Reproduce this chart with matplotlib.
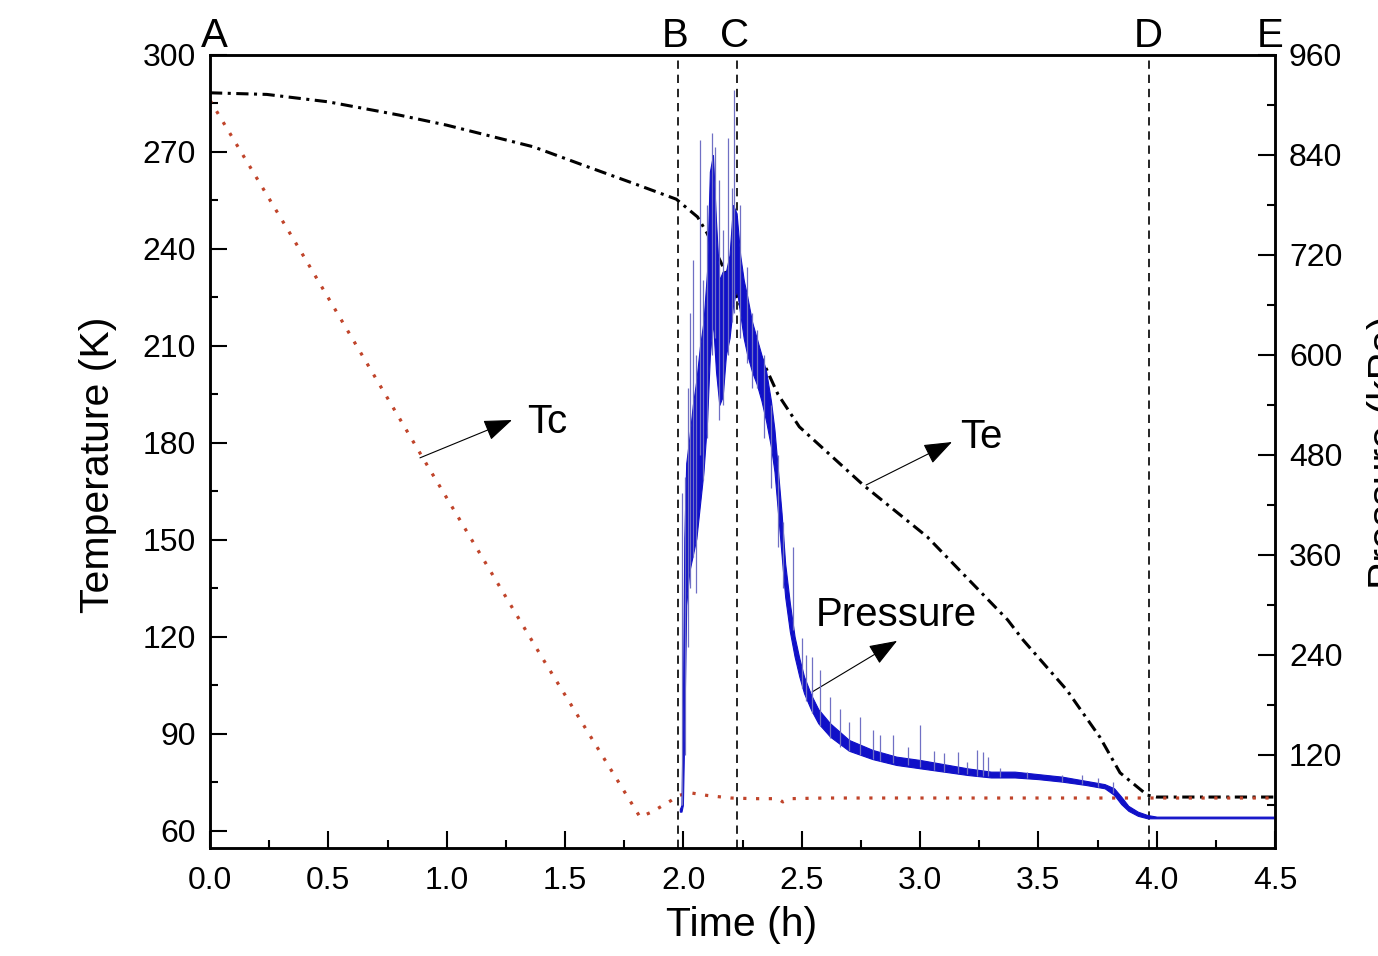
import numpy as np
import matplotlib.pyplot as plt
from matplotlib.ticker import MultipleLocator, FormatStrFormatter

plt.rcParams['font.family'] = ['Liberation Sans', 'DejaVu Sans']

# evaporator temperature Te (K)
te_t = [0, 0.24, 0.5, 0.8, 1.0, 1.366, 1.6, 1.8, 1.97, 2.06, 2.10, 2.22, 2.32,
        2.40, 2.49, 2.55, 2.76, 3.03, 3.37, 3.435, 3.62, 3.76, 3.845, 3.96, 4.0, 4.5]
te_k = [288.3, 287.8, 285.5, 281.4, 278.3, 271.6, 265.3, 260.0, 255.4, 249.9, 244.9,
        226.4, 207.8, 195.0, 185.0, 181.0, 167.0, 151.0, 125.3, 119.1, 103.6, 89.0,
        78.0, 71.1, 70.5, 70.5]

# cold head temperature Tc (K)
tc_t = [0, 0.38, 0.917, 1.4, 1.817, 1.87, 1.95, 1.98, 2.03, 2.1, 2.2, 2.3, 2.4,
        2.42, 2.45, 2.6, 3.0, 3.5, 4.0, 4.5]
tc_k = [286.0, 239.7, 173.2, 114.0, 64.3, 66.0, 69.5, 71.0, 71.8, 71.0, 70.2, 70.0,
        70.0, 69.0, 70.0, 70.2, 70.2, 70.2, 70.2, 70.2]

# pressure band (kPa): lower / upper edge of the noisy trace
p_t = [1.985, 1.992, 1.998, 2.004, 2.012, 2.025, 2.040, 2.055, 2.070, 2.085, 2.100,
       2.112, 2.125, 2.138, 2.152, 2.166, 2.180, 2.195, 2.210, 2.225, 2.240, 2.255,
       2.270, 2.290, 2.310, 2.330, 2.350, 2.370, 2.385, 2.400, 2.415, 2.430, 2.450,
       2.470, 2.490, 2.510, 2.540, 2.570, 2.620, 2.700, 2.800, 2.900, 3.000, 3.100,
       3.200, 3.300, 3.400, 3.500, 3.600, 3.700, 3.780, 3.820, 3.850, 3.880, 3.920,
       3.960, 4.000, 4.500]
p_lo = [52, 52, 60, 150, 300, 340, 360, 380, 420, 460, 520, 600, 640, 580, 540, 550,
        600, 620, 660, 680, 650, 620, 600, 580, 565, 545, 520, 490, 460, 410, 360, 310,
        268, 238, 214, 194, 174, 158, 142, 125, 115, 108, 104, 100, 96, 93, 93, 91, 88,
        84, 80, 72, 61, 53, 47, 44, 44, 44]
p_hi = [55, 60, 180, 380, 470, 500, 540, 570, 610, 640, 700, 820, 840, 760, 690, 700,
        700, 720, 780, 770, 720, 690, 670, 640, 620, 600, 580, 545, 510, 460, 410, 350,
        302, 262, 236, 214, 192, 175, 158, 138, 126, 118, 114, 109, 104, 100, 100, 97,
        94, 89, 85, 80, 70, 59, 52, 48, 46, 46]

# isolated pressure spikes (kPa)
spike_t = [1.994, 2.005, 2.020, 2.028, 2.041, 2.054, 2.070, 2.083, 2.100, 2.121, 2.134,
           2.151, 2.168, 2.189, 2.205, 2.214, 2.240, 2.269, 2.290, 2.311, 2.340, 2.370,
           2.400, 2.420, 2.464, 2.500, 2.520, 2.544, 2.577, 2.620, 2.660, 2.700, 2.746,
           2.800, 2.830, 2.886, 2.950, 3.000, 3.060, 3.100, 3.161, 3.200, 3.240, 3.268,
           3.288, 3.338, 3.450, 3.600, 3.684, 3.750, 3.815]
spike_lo = [60, 120, 250, 320, 358, 314, 480, 450, 500, 600, 620, 522, 540, 600, 640,
            650, 620, 590, 560, 560, 500, 440, 370, 320, 270, 200, 185, 170, 155, 140,
            130, 125, 120, 115, 113, 110, 108, 105, 102, 100, 98, 97, 95, 95, 95, 94,
            92, 88, 85, 82, 74]
spike_hi = [434, 454, 560, 650, 714, 600, 858, 690, 780, 866, 850, 810, 750, 860, 800,
            918, 780, 706, 650, 630, 600, 540, 480, 400, 370, 260, 240, 238, 222, 190,
            175, 160, 166, 150, 144, 144, 130, 156, 125, 122, 124, 112, 126, 124, 118,
            104, 100, 96, 96, 92, 88]

events_t = [1.977, 2.227, 3.968]
letters = ['A', 'B', 'C', 'D', 'E']
letters_t = [0.02, 1.965, 2.218, 3.963, 4.479]

fig = plt.figure(figsize=(13.78, 9.56), dpi=100)
ax = fig.add_axes([0.1524, 0.1130, 0.7729, 0.8295])
ax2 = ax.twinx()

ax.plot(te_t, te_k, color='black', lw=2.2, ls=(0, (4, 1.8, 1, 1.8)))
ax.plot(tc_t, tc_k, color='#c0442a', lw=2.3, ls=(0, (1, 3)))

ax2.fill_between(p_t, p_lo, p_hi, color='#1010c8', lw=0.8)
ax2.vlines(spike_t, spike_lo, spike_hi, color='#7070c4', lw=0.9)

for t in events_t:
    ax.axvline(t, color='black', lw=1.2, ls=(0, (5, 3.5)))

for s, t in zip(letters, letters_t):
    ax.text(t, 1.024, s, transform=ax.get_xaxis_transform(), ha='center',
            va='center', fontsize=29)

arrow = dict(arrowstyle='-|>,head_length=0.8,head_width=0.3', color='black',
             lw=0.8, shrinkA=0, shrinkB=0, mutation_scale=22)
ax.annotate('', xy=(1.276, 187.1), xytext=(0.887, 175.4), arrowprops=arrow)
ax.text(1.339, 186.5, 'Tc', fontsize=29, va='center')
ax.annotate('', xy=(3.135, 180.3), xytext=(2.772, 167.0), arrowprops=arrow)
ax.text(3.169, 181.9, 'Te', fontsize=29, va='center')
ax.annotate('', xy=(2.903, 118.8), xytext=(2.544, 103.0), arrowprops=arrow)
ax.text(2.561, 126.8, 'Pressure', fontsize=29, va='center')

ax.set_xlim(0, 4.5)
ax.set_ylim(54.75, 300)
ax2.set_ylim(8.4, 960)

ax.set_xticks(np.arange(0, 4.51, 0.5))
ax.xaxis.set_minor_locator(MultipleLocator(0.25))
ax.xaxis.set_major_formatter(FormatStrFormatter('%.1f'))
ax.set_yticks(range(60, 301, 30))
ax.yaxis.set_minor_locator(MultipleLocator(15))
ax2.set_yticks(range(120, 961, 120))
ax2.yaxis.set_minor_locator(MultipleLocator(60))

ax.tick_params(which='both', direction='in', top=False, right=False,
               labelsize=23, width=1.5, pad=10)
ax.tick_params(axis='x', which='both', pad=13)
ax.tick_params(which='major', length=12)
ax.tick_params(which='minor', length=6)
ax2.tick_params(which='both', direction='in', left=False, labelsize=23,
                width=1.5, pad=10)
ax2.tick_params(which='major', length=12)
ax2.tick_params(which='minor', length=6)

for a in (ax, ax2):
    for sp in a.spines.values():
        sp.set_linewidth(1.8)

fig.text(98 / 1378, 1 - 465 / 956, 'Temperature (K)', rotation=90,
         ha='center', va='center', fontsize=29.5)
fig.text(742 / 1378, 1 - 925 / 956, 'Time (h)', ha='center', va='center',
         fontsize=29.5)
fig.text(1.006, 1 - 452 / 956, 'Pressure (kPa)', rotation=90, ha='center',
         va='center', fontsize=29.5)

fig.savefig('out.png', dpi=100)
